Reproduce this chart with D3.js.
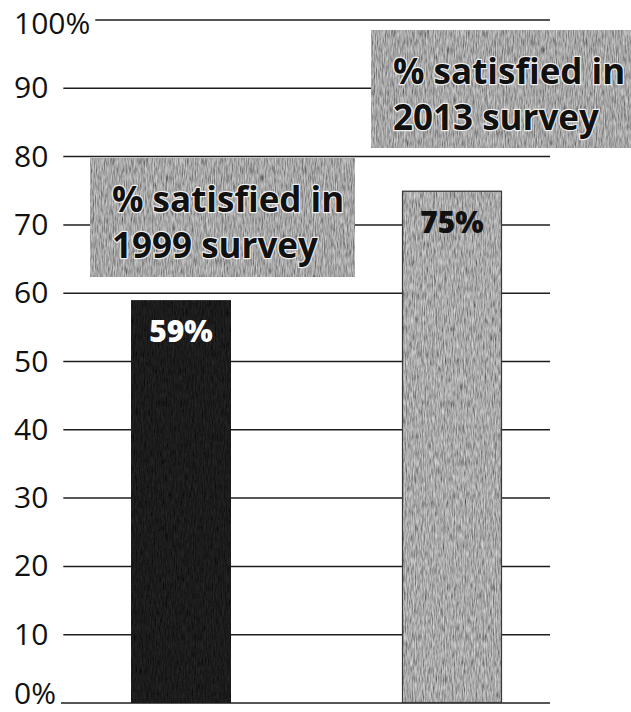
<!DOCTYPE html>
<html>
<head>
<meta charset="utf-8">
<script src="https://cdn.jsdelivr.net/npm/d3@7/dist/d3.min.js"></script>
<style>
  html, body { margin: 0; padding: 0; background: #fff; }
  svg { display: block; }
</style>
</head>
<body>
<script>
// Survey results
const surveys = ["1999", "2013"];
const satisfied = [59, 75];

// Y axis ticks
const tickValues = [0, 10, 20, 30, 40, 50, 60, 70, 80, 90, 100];
const tickLabels = ["0%", "10", "20", "30", "40", "50", "60", "70", "80", "90", "100%"];

// Callout boxes naming each survey
const calloutText = [
  ["% satisfied in", "1999 survey"],
  ["% satisfied in", "2013 survey"]
];

const W = 631, H = 712;
const svg = d3.select("body").append("svg")
  .attr("width", W).attr("height", H);

// Printed halftone grain for the filled shapes
const defs = svg.append("defs");
const grain = defs.append("filter").attr("id", "grain")
  .attr("x", 0).attr("y", 0).attr("width", 1).attr("height", 1);
grain.append("feTurbulence")
  .attr("type", "fractalNoise").attr("baseFrequency", "0.9 0.12")
  .attr("numOctaves", 2).attr("seed", 5).attr("result", "noise");
grain.append("feColorMatrix")
  .attr("in", "noise").attr("type", "saturate").attr("values", 0).attr("result", "gray");
const ct = grain.append("feComponentTransfer").attr("in", "gray").attr("result", "contrast");
["feFuncR", "feFuncG", "feFuncB"].forEach(f =>
  ct.append(f).attr("type", "linear").attr("slope", 1.3).attr("intercept", -0.15));
ct.append("feFuncA").attr("type", "linear").attr("slope", 0).attr("intercept", 1);
grain.append("feBlend")
  .attr("in", "contrast").attr("in2", "SourceGraphic").attr("mode", "overlay").attr("result", "blend");
grain.append("feComposite")
  .attr("in", "blend").attr("in2", "SourceGraphic").attr("operator", "in");

const y = d3.scaleLinear().domain([0, 100]).range([703, 20]);
const x = d3.scaleBand().domain(surveys).range([131, 502])
  .paddingInner(0.631).paddingOuter(0);

const lineRight = 550;
const labelX = 14;

// Tick labels (baseline kept inside the page) and rules starting just after them
const ticks = svg.append("g").attr("class", "ticks");
const tick = ticks.selectAll("g").data(tickValues).join("g")
  .attr("transform", d => `translate(0,${y(d)})`);
tick.append("text")
  .attr("x", labelX)
  .attr("y", d => Math.max(34, Math.min(y(d) + 10, 704)) - y(d))
  .attr("font-family", "'Open Sans', sans-serif")
  .attr("font-size", 30)
  .attr("fill", "#111")
  .text((d, i) => tickLabels[i]);
tick.each(function (d, i) {
  const g = d3.select(this);
  const len = g.select("text").node().getComputedTextLength();
  const gap = tickLabels[i].endsWith("%") ? 5 : 15;
  g.append("line")
    .attr("x1", labelX + len + gap).attr("x2", lineRight)
    .attr("y1", 0).attr("y2", 0)
    .attr("stroke", "#1e1e1e").attr("stroke-width", 1.5);
});

// Bars
const barFill = ["#1b1b1b", "#a9a9a9"];
const barStroke = ["none", "#3a3a3a"];
const labelFill = ["#fff", "#111"];
const bars = svg.append("g").selectAll("g").data(surveys).join("g");
bars.append("rect")
  .attr("x", d => x(d))
  .attr("y", (d, i) => y(satisfied[i]))
  .attr("width", x.bandwidth())
  .attr("height", (d, i) => y(0) - y(satisfied[i]))
  .attr("fill", (d, i) => barFill[i])
  .attr("filter", "url(#grain)");
bars.append("rect")
  .attr("x", d => x(d) + 0.5)
  .attr("y", (d, i) => y(satisfied[i]) + 0.5)
  .attr("width", x.bandwidth() - 1)
  .attr("height", (d, i) => y(0) - y(satisfied[i]) - 1)
  .attr("fill", "none")
  .attr("stroke", (d, i) => barStroke[i])
  .attr("stroke-width", 1.2);
bars.append("text")
  .attr("x", d => x(d) + x.bandwidth() / 2)
  .attr("y", (d, i) => y(satisfied[i]) + 42)
  .attr("text-anchor", "middle")
  .attr("font-family", "'Open Sans', sans-serif")
  .attr("font-weight", 800)
  .attr("font-size", 30)
  .attr("fill", (d, i) => labelFill[i])
  .text((d, i) => satisfied[i] + "%");

// Callout boxes
const boxes = [
  { x: 90, y: 158, w: 265, h: 119 },
  { x: 371, y: 30, w: 262, h: 118 }
];
const callouts = svg.append("g").selectAll("g").data(boxes).join("g")
  .attr("transform", b => `translate(${b.x},${b.y})`);
callouts.append("rect")
  .attr("width", b => b.w).attr("height", b => b.h)
  .attr("fill", "#a6a6a6")
  .attr("filter", "url(#grain)");
callouts.each(function (b, i) {
  const g = d3.select(this);
  calloutText[i].forEach((line, j) => {
    g.append("text")
      .attr("x", 22).attr("y", 54 + j * 46)
      .attr("font-family", "'Open Sans', sans-serif")
      .attr("font-weight", 700)
      .attr("font-size", 35)
      .attr("fill", "#111")
      .attr("stroke", "#eeeeee").attr("stroke-width", 2.4)
      .attr("paint-order", "stroke")
      .attr("stroke-linejoin", "round")
      .text(line);
  });
});
</script>
</body>
</html>
